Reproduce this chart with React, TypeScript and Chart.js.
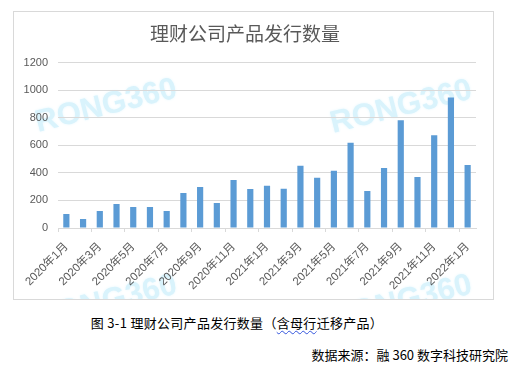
import React, { useEffect, useRef } from "react";
import { Chart, registerables } from "chart.js";

Chart.register(...registerables);

const categories = [
  "2020年1月", "2020年2月", "2020年3月", "2020年4月", "2020年5月", "2020年6月",
  "2020年7月", "2020年8月", "2020年9月", "2020年10月", "2020年11月", "2020年12月",
  "2021年1月", "2021年2月", "2021年3月", "2021年4月", "2021年5月", "2021年6月",
  "2021年7月", "2021年8月", "2021年9月", "2021年10月", "2021年11月", "2021年12月",
  "2022年1月",
];
const issuance = [
  102, 65, 123, 174, 152, 152, 123, 254, 297, 181, 348, 283,
  306, 285, 453, 365, 416, 620, 268, 435, 782, 370, 673, 948, 457,
];
const yTicks = [0, 200, 400, 600, 800, 1000, 1200];
const chartTitle = "理财公司产品发行数量";
const watermarkText = "RONG360";
const captionBefore = "图 3-1 理财公司产品发行数量（";
const captionMarked = "含母行";
const captionAfter = "迁移产品）";
const sourceText = "数据来源：融 360 数字科技研究院";

const watermarkPlugin = {
  id: "watermark",
  beforeDraw(chart: any) {
    const ctx = chart.ctx;
    const spots = [
      [24, 120],
      [319, 121],
      [24, 316],
      [319, 316],
    ];
    ctx.save();
    ctx.font = "bold 31px 'Liberation Sans', Arial, sans-serif";
    ctx.fillStyle = "#d9f3fc";
    ctx.shadowColor = "#e6f7fd";
    ctx.shadowBlur = 3;
    ctx.textBaseline = "alphabetic";
    ctx.textAlign = "left";
    for (const [x, y] of spots) {
      ctx.save();
      ctx.translate(x, y);
      ctx.rotate((-14 * Math.PI) / 180);
      ctx.fillText(watermarkText, 0, 0);
      ctx.restore();
    }
    ctx.restore();
  },
};

export default function App() {
  const canvasRef = useRef<HTMLCanvasElement | null>(null);

  useEffect(() => {
    if (!canvasRef.current) return;
    const chart = new Chart(canvasRef.current, {
      type: "bar",
      data: {
        labels: categories,
        datasets: [
          {
            data: issuance,
            backgroundColor: "#5b9bd5",
            borderWidth: 0,
            categoryPercentage: 1,
            barPercentage: 0.37,
          },
        ],
      },
      plugins: [watermarkPlugin],
      options: {
        animation: false,
        responsive: false,
        maintainAspectRatio: false,
        layout: { padding: { left: 0, right: 17, top: 10, bottom: 0 } },
        plugins: {
          legend: { display: false },
          tooltip: { enabled: false },
          title: {
            display: true,
            text: chartTitle,
            color: "#595959",
            font: { size: 19, family: "'Noto Sans CJK SC', sans-serif", weight: "normal" },
            padding: { top: 0, bottom: 18 },
          },
        },
        scales: {
          x: {
            grid: {
              drawOnChartArea: false,
              drawTicks: true,
              tickLength: 4,
              offset: true,
              color: (c: any) => (c.index % 2 === 0 ? "#d9d9d9" : "rgba(0,0,0,0)"),
            },
            border: { display: true, color: "#d9d9d9" },
            ticks: {
              autoSkip: false,
              maxRotation: 45,
              minRotation: 45,
              color: "#595959",
              padding: 8,
              font: { size: 11.5, family: "'Liberation Sans', 'Noto Sans CJK SC', sans-serif" },
              callback: (_v: any, i: number) => (i % 2 === 0 ? categories[i] : ""),
            },
            afterFit: (s: any) => {
              s.height = 71;
            },
          },
          y: {
            min: 0,
            max: 1200,
            afterBuildTicks: (s: any) => {
              s.ticks = yTicks.map((v) => ({ value: v }));
            },
            grid: { color: "#d9d9d9", drawTicks: false },
            border: { display: false },
            ticks: {
              color: "#595959",
              padding: 10,
              font: { size: 11, family: "'Liberation Sans', sans-serif" },
              callback: (v: any) => String(v),
            },
            afterFit: (s: any) => {
              s.width = 44;
            },
          },
        },
      },
    });
    return () => chart.destroy();
  }, []);

  return (
    <div
      style={{
        position: "absolute",
        left: 0,
        top: 0,
        width: 516,
        height: 365,
        background: "#fff",
        fontFamily: "'Noto Sans CJK SC', sans-serif",
      }}
    >
      <div
        style={{
          position: "absolute",
          left: 13,
          top: 11,
          width: 479,
          height: 287,
          border: "1px solid #d9d9d9",
          background: "#fff",
        }}
      >
        <canvas ref={canvasRef} width={479} height={287} style={{ display: "block", width: 479, height: 287 }} />
      </div>
      <div
        style={{
          position: "absolute",
          left: 0,
          width: 474,
          top: 314,
          textAlign: "center",
          fontSize: 13,
          lineHeight: "18px",
          letterSpacing: "0.3px",
          color: "#000",
          whiteSpace: "nowrap",
        }}
      >
        {captionBefore}
        <span style={{ textDecorationLine: "underline", textDecorationStyle: "wavy", textDecorationColor: "#3355dd", textDecorationThickness: "1px", textUnderlineOffset: "2px" }}>
          {captionMarked}
        </span>
        {captionAfter}
      </div>
      <div
        style={{
          position: "absolute",
          right: 8,
          top: 346,
          textAlign: "right",
          fontSize: 13,
          lineHeight: "18px",
          color: "#000",
          whiteSpace: "nowrap",
        }}
      >
        {sourceText}
      </div>
    </div>
  );
}
